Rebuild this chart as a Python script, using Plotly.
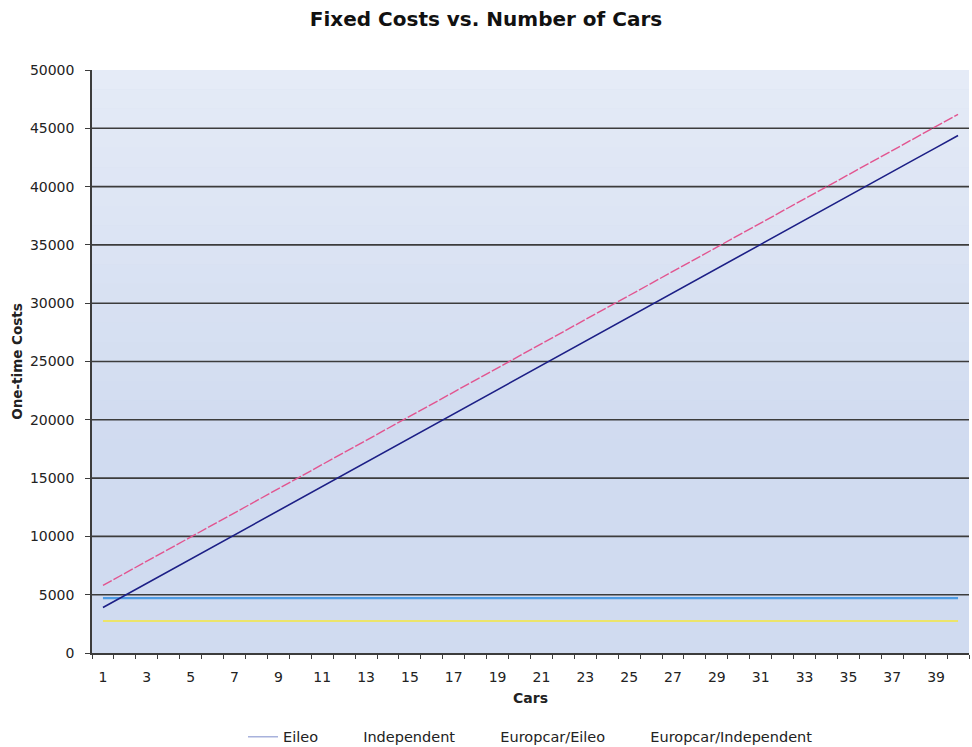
import plotly.graph_objects as go

cars = list(range(1, 41))

eileo = [4700] * 40
independent = [2750] * 40
europcar_eileo = [
    3900, 4940, 5980, 7010, 8050, 9090, 10130, 11170, 12200, 13240,
    14280, 15320, 16360, 17390, 18430, 19470, 20510, 21550, 22580, 23620,
    24660, 25700, 26740, 27770, 28810, 29850, 30890, 31930, 32960, 34000,
    35040, 36080, 37120, 38150, 39190, 40230, 41270, 42310, 43340, 44380,
]
europcar_independent = [
    5800, 6840, 7870, 8910, 9940, 10980, 12020, 13050, 14090, 15120,
    16160, 17200, 18230, 19270, 20300, 21340, 22380, 23410, 24450, 25480,
    26520, 27560, 28590, 29630, 30660, 31700, 32740, 33770, 34810, 35840,
    36880, 37920, 38950, 39990, 41020, 42060, 43100, 44130, 45170, 46200,
]

x_ticks = list(range(1, 40, 2))
y_ticks = list(range(0, 50001, 5000))

FONT = "DejaVu Sans"
GRID = "#3c3c3c"

series = [
    ("Eileo", eileo, "#4d9be3", "solid", 2.2, "#a8b2dc"),
    ("Independent", independent, "#ece46a", "solid", 2.0, "rgba(255,255,255,0)"),
    ("Europcar/Eileo", europcar_eileo, "#1c1f86", "solid", 1.6, "rgba(255,255,255,0)"),
    ("Europcar/Independent", europcar_independent, "#e2548f", "10px,2px", 1.4, "rgba(255,255,255,0)"),
]

fig = go.Figure()

# Soft vertical shading of the plot area: lighter toward the top
n_bands = 30
for i in range(n_bands):
    y0 = i / n_bands
    y1 = (i + 1) / n_bands
    mid = (y0 + y1) / 2
    alpha = max(0.0, (mid - 0.35) / 0.65) * 0.45
    if alpha <= 0:
        continue
    fig.add_shape(type="rect", xref="paper", yref="paper", x0=0, x1=1, y0=y0, y1=y1,
                  fillcolor=f"rgba(255,255,255,{alpha:.3f})", line=dict(width=0),
                  layer="below")

# Horizontal grid drawn as shapes so they sit under the data lines
for v in y_ticks[1:-1]:
    fig.add_shape(type="line", xref="paper", yref="y", x0=0, x1=1, y0=v, y1=v,
                  line=dict(color=GRID, width=1.6), layer="below")

for name, vals, color, dash, width, legend_color in series:
    fig.add_trace(go.Scatter(
        x=cars, y=vals, mode="lines", name=name, showlegend=False,
        line=dict(color=color, width=width, dash=dash),
    ))
    # legend entry (faded swatches as printed)
    fig.add_trace(go.Scatter(
        x=[None], y=[None], mode="lines", name=name,
        line=dict(color=legend_color, width=1.5),
    ))

fig.update_layout(
    width=972, height=747,
    margin=dict(l=92, r=3, t=70, b=94, autoexpand=False),
    paper_bgcolor="white",
    plot_bgcolor="#d0dbf0",
    font=dict(family=FONT, size=14, color="#222222"),
    title=dict(text="<b>Fixed Costs vs. Number of Cars</b>",
               x=0.5, xanchor="center", y=0.975, yanchor="middle",
               font=dict(family=FONT, size=20, color="#111111")),
    showlegend=True,
    legend=dict(orientation="h", x=0.50, xanchor="center",
                yref="container", y=0.035, yanchor="top",
                font=dict(family=FONT, size=14.5, color="#222222"),
                itemwidth=30, bgcolor="rgba(0,0,0,0)"),
    xaxis=dict(
        range=[0.5, 40.5], tickmode="array", tickvals=x_ticks,
        ticktext=[str(t) for t in x_ticks], ticks="", showgrid=False,
        showline=True, linecolor=GRID, linewidth=1.5, zeroline=False,
        ticklabelstandoff=10, automargin=False,
        minor=dict(tickmode="linear", tick0=0.5, dtick=1, ticks="outside",
                   ticklen=4, tickcolor=GRID, showgrid=False),
        title=dict(text="<b>Cars</b>", font=dict(family=FONT, size=14), standoff=10),
        tickfont=dict(family=FONT, size=14),
    ),
    yaxis=dict(
        range=[0, 50000], tickmode="array", tickvals=y_ticks,
        ticktext=[str(t) for t in y_ticks],
        ticks="outside", ticklen=5, tickcolor=GRID, showgrid=False,
        showline=True, linecolor=GRID, linewidth=1.5, zeroline=False,
        ticklabelstandoff=8, automargin=False,
        title=dict(text="<b>One-time Costs</b>", font=dict(family=FONT, size=13.5), standoff=4),
        tickfont=dict(family=FONT, size=14),
    ),
)

fig.write_html("out.html")
